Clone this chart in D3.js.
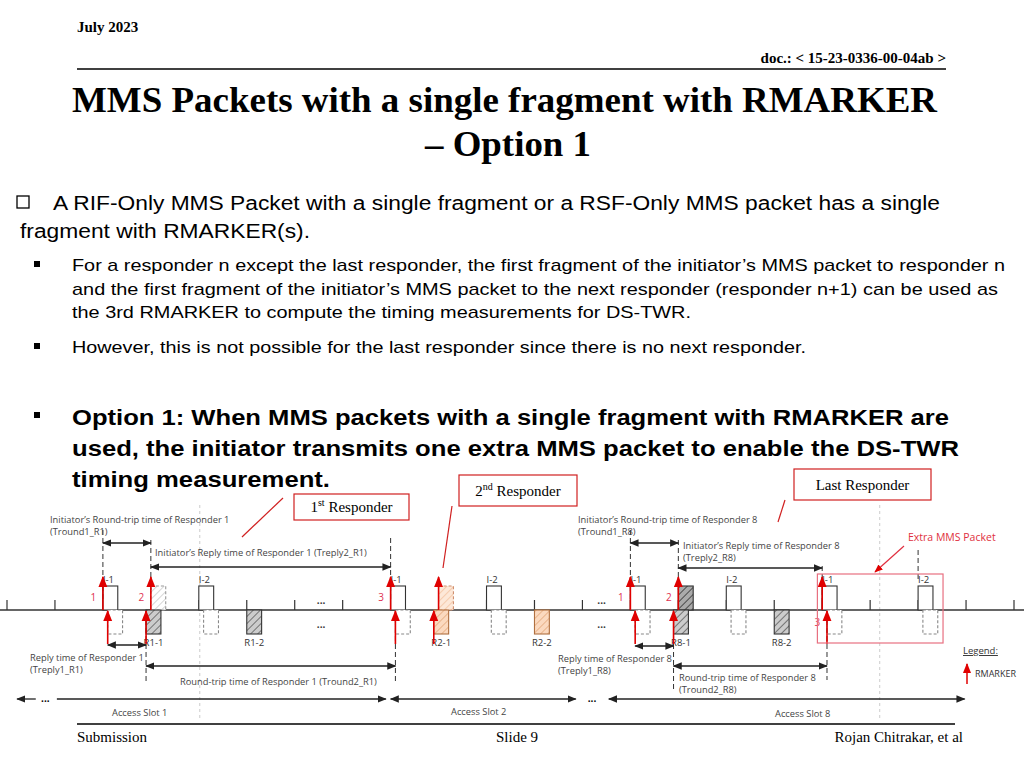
<!DOCTYPE html>
<html><head><meta charset="utf-8">
<script src="https://cdn.jsdelivr.net/npm/d3@7"></script>
<style>body{margin:0;background:#fff}svg{display:block}</style>
</head><body>
<script>
// ---------- data ----------
const bulletLines = [
  "A RIF-Only MMS Packet with a single fragment or a RSF-Only MMS packet has a single",
  "fragment with RMARKER(s)."
];
const subBullet1 = [
  "For a responder n except the last responder, the first fragment of the initiator’s MMS packet to responder n",
  "and the first fragment of the initiator’s MMS packet to the next responder (responder n+1) can be used as",
  "the 3rd RMARKER to compute the timing measurements for DS-TWR."
];
const subBullet2 = ["However, this is not possible for the last responder since there is no next responder."];
const optionLines = [
  "Option 1: When MMS packets with a single fragment with RMARKER are",
  "used, the initiator transmits one extra MMS packet to enable the DS-TWR",
  "timing measurement."
];
const tickSlots = d3.range(0, 22);
const packets = [
  {s:2, side:"up", st:"plain", lab:"I-1"}, {s:2.1, side:"down", st:"dash"},
  {s:3, side:"up", st:"lightHatchDash"}, {s:2.9, side:"down", st:"hatch", lab:"R1-1"},
  {s:4, side:"up", st:"plain", lab:"I-2"}, {s:4.1, side:"down", st:"dash"},
  {s:5, side:"down", st:"hatch", lab:"R1-2"},
  {s:8, side:"up", st:"plain", lab:"I-1"}, {s:8.1, side:"down", st:"dash"},
  {s:9, side:"up", st:"orangeDash"}, {s:8.9, side:"down", st:"orange", lab:"R2-1"},
  {s:10, side:"up", st:"plain", lab:"I-2"}, {s:10.1, side:"down", st:"dash"},
  {s:11, side:"down", st:"orange", lab:"R2-2"},
  {s:13, side:"up", st:"plain", lab:"I-1"}, {s:13.1, side:"down", st:"dash"},
  {s:14, side:"up", st:"darkHatch"}, {s:13.9, side:"down", st:"hatch", lab:"R8-1"},
  {s:15, side:"up", st:"plain", lab:"I-2"}, {s:15.1, side:"down", st:"dash"},
  {s:16, side:"down", st:"hatch", lab:"R8-2"},
  {s:17, side:"up", st:"plain", lab:"I-1"}, {s:17.1, side:"down", st:"dash"},
  {s:19, side:"up", st:"plain", lab:"I-2"}, {s:19.1, side:"down", st:"dash"}
];
const upMarkers = [2, 3, 8, 9, 13, 14, 17];
const downMarkers = [2.1, 2.9, 8.1, 8.9, 13.1, 13.9, 17.1];
const markerNums = [{s:1.8, t:"1", up:true},{s:2.8,t:"2",up:true},{s:7.8,t:"3",up:true},
  {s:12.8,t:"1",up:true},{s:13.8,t:"2",up:true},{s:16.9,t:"3",up:false}];
const ellipsisSlots = [6.55, 12.4];
const dashVerticals = [
  {s:2, y0:530, y1:600},{s:3, y0:540, y1:590},{s:2.9, y0:612, y1:682},
  {s:8, y0:538, y1:600},{s:8.1, y0:612, y1:682},
  {s:13, y0:530, y1:600},{s:14, y0:540, y1:590},{s:13.9, y0:612, y1:692},
  {s:17, y0:566, y1:600},{s:17.1, y0:612, y1:680},{s:19, y0:550, y1:582}
];
const dims = [
  {a:2, b:3, y:543}, {a:3, b:8, y:567}, {a:2.1, b:2.9, y:645}, {a:2.9, b:8.1, y:666},
  {a:13, b:14, y:543}, {a:14, b:17, y:568}, {a:13.1, b:13.9, y:646}, {a:13.9, b:17.1, y:666}
];
const dimLabels = [
  {x:50, y:523, t:"Initiator’s Round-trip time of Responder 1"}, {x:50, y:535, t:"(Tround1_R1)"},
  {x:155, y:556, t:"Initiator’s Reply time of Responder 1 (Treply2_R1)"},
  {x:30, y:661, t:"Reply time of Responder 1"}, {x:30, y:673, t:"(Treply1_R1)"},
  {x:180, y:685, t:"Round-trip time of Responder 1 (Tround2_R1)"},
  {x:578, y:523, t:"Initiator’s Round-trip time of Responder 8"}, {x:578, y:535, t:"(Tround1_R8)"},
  {x:683, y:549, t:"Initiator’s Reply time of Responder 8"}, {x:683, y:561, t:"(Treply2_R8)"},
  {x:558, y:662, t:"Reply time of Responder 8"}, {x:558, y:674, t:"(Treply1_R8)"},
  {x:679, y:681, t:"Round-trip time of Responder 8"}, {x:679, y:693, t:"(Tround2_R8)"},
  {x:112, y:716, t:"Access Slot 1"}, {x:451, y:715, t:"Access Slot 2"}, {x:775, y:717, t:"Access Slot 8"}
];
const slotArrows = [{a:0.6, b:0.21, start:false}, {a:1.04, b:7.9, start:false}, {a:8.0, b:11.86, start:true}, {a:12.55, b:19.97, start:true}];
const slotDots = [0.8, 12.2];

// ---------- drawing ----------
const W=1024,H=768;
const svg=d3.select("body").append("svg").attr("width",W).attr("height",H);
const defs=svg.append("defs");
function hatch(id,color,bg,sw){
  const p=defs.append("pattern").attr("id",id).attr("patternUnits","userSpaceOnUse")
    .attr("width",5).attr("height",5).attr("patternTransform","rotate(45)");
  p.append("rect").attr("width",5).attr("height",5).attr("fill",bg);
  p.append("line").attr("x1",0).attr("y1",0).attr("x2",0).attr("y2",5).attr("stroke",color).attr("stroke-width",sw);
}
hatch("hDark","#333","#aaa",1.6); hatch("hMid","#444","#ccc",1.3); hatch("hLight","#bbb","#fff",1.2);
hatch("hOrange","#e0a070","#fbd9bf",1.3); hatch("hOrangeL","#f0b890","#fde8d8",1.2);
[["ah","#222"],["ahr","#e00000"]].forEach(([id,c])=>{
  defs.append("marker").attr("id",id).attr("viewBox","0 0 10 10").attr("refX",9).attr("refY",5)
   .attr("markerWidth",7).attr("markerHeight",7).attr("orient","auto-start-reverse")
   .append("path").attr("d","M0,1L10,5L0,9z").attr("fill",c);
});
const serif="'Liberation Serif','Times New Roman',serif", sans="'Liberation Sans',Arial,sans-serif", diag="'Open Sans','Noto Sans',sans-serif";
function fitText(x0,y,t,size,len,opts={}){
  const e=svg.append("text").attr("x",x0).attr("y",y).attr("font-family",opts.ff||sans).attr("font-size",size)
    .attr("textLength",len).attr("lengthAdjust","spacingAndGlyphs").text(t);
  if(opts.bold) e.attr("font-weight","bold");
  if(opts.anchor) e.attr("text-anchor",opts.anchor);
  return e;
}

// header
svg.append("text").attr("x",77).attr("y",32).attr("font-family",serif).attr("font-weight","bold").attr("font-size",15).text("July 2023");
svg.append("text").attr("x",946).attr("y",63).attr("text-anchor","end").attr("font-family",serif).attr("font-weight","bold").attr("font-size",15).text("doc.: < 15-23-0336-00-04ab >");
svg.append("line").attr("x1",77).attr("x2",946).attr("y1",69).attr("y2",69).attr("stroke","#000").attr("stroke-width",1.5);
fitText(72,112,"MMS Packets with a single fragment with RMARKER",36,865,{ff:serif,bold:true});
fitText(425,156,"– Option 1",36,166,{ff:serif,bold:true});

// bullets
svg.append("rect").attr("x",17).attr("y",196).attr("width",12).attr("height",12).attr("fill","none").attr("stroke","#000").attr("stroke-width",1.3);
fitText(53,210,bulletLines[0],20,887);
fitText(20,238,bulletLines[1],20,290);
function sq(y){svg.append("rect").attr("x",34).attr("y",y).attr("width",6).attr("height",6).attr("fill","#000");}
sq(261);
[933,926,619].forEach((len,i)=>fitText(72,271+i*23.5,subBullet1[i],17,len));
sq(343); fitText(72,353,subBullet2[0],17,734);
sq(412);
[877,887,258].forEach((len,i)=>fitText(72,425+i*31,optionLines[i],22,len,{bold:true}));

// diagram
const x=d3.scaleLinear().domain([0,21]).range([7,1014]);
const bw=x(0.31)-x(0), axisY=610, bh=24;
const g=svg.append("g");
[4.02,18.2].forEach(s=>g.append("line").attr("x1",x(s)).attr("x2",x(s)).attr("y1",505).attr("y2",720).attr("stroke","#ccc").attr("stroke-dasharray","3,3"));
g.append("line").attr("x1",0).attr("x2",W).attr("y1",axisY).attr("y2",axisY).attr("stroke","#333").attr("stroke-width",1.3);
g.selectAll(".tk").data(tickSlots).join("line").attr("x1",d=>x(d)).attr("x2",d=>x(d)).attr("y1",axisY-10).attr("y2",axisY).attr("stroke","#333").attr("stroke-width",1.2);
const fills={plain:"#fff",dash:"#fff",lightHatchDash:"url(#hLight)",hatch:"url(#hMid)",orange:"url(#hOrange)",orangeDash:"url(#hOrangeL)",darkHatch:"url(#hDark)"};
const strokes={plain:"#333",dash:"#888",lightHatchDash:"#999",hatch:"#333",orange:"#b07040",orangeDash:"#d09070",darkHatch:"#333"};
const dashed=new Set(["dash","lightHatchDash","orangeDash"]);
g.selectAll(".pk").data(packets).join("rect")
  .attr("x",d=>x(d.s)).attr("y",d=>d.side==="up"?axisY-bh:axisY).attr("width",bw).attr("height",bh)
  .attr("fill",d=>fills[d.st]).attr("stroke",d=>strokes[d.st]).attr("stroke-width",1.1)
  .attr("stroke-dasharray",d=>dashed.has(d.st)?"3,2":null);
g.selectAll(".pl").data(packets.filter(d=>d.lab)).join("text")
  .attr("x",d=>d.side==="up"?x(d.s):x(d.s)+bw/2).attr("y",d=>d.side==="up"?axisY-bh-3:axisY+bh+12)
  .attr("text-anchor",d=>d.side==="up"?"start":"middle").attr("font-family",diag).attr("font-size",9.5).attr("fill","#333").text(d=>d.lab);
g.selectAll(".dv").data(dashVerticals).join("line").attr("x1",d=>x(d.s)).attr("x2",d=>x(d.s)).attr("y1",d=>d.y0).attr("y2",d=>d.y1)
  .attr("stroke","#333").attr("stroke-dasharray","5,3").attr("stroke-width",1);
g.selectAll(".um").data(upMarkers).join("line").attr("x1",d=>x(d)).attr("x2",d=>x(d)).attr("y1",axisY).attr("y2",axisY-33)
  .attr("stroke","#e00000").attr("stroke-width",1.6).attr("marker-end","url(#ahr)");
g.selectAll(".dm").data(downMarkers).join("line").attr("x1",d=>x(d)).attr("x2",d=>x(d)).attr("y1",axisY+34).attr("y2",axisY+1)
  .attr("stroke","#e00000").attr("stroke-width",1.6).attr("marker-end","url(#ahr)");
g.selectAll(".mn").data(markerNums).join("text").attr("x",d=>x(d.s)).attr("y",d=>d.up?axisY-9:axisY+16)
  .attr("text-anchor","middle").attr("font-family",diag).attr("font-size",10).attr("fill","#e03050").text(d=>d.t);
ellipsisSlots.forEach(s=>{[axisY-6,axisY+18].forEach(y=>g.append("text").attr("x",x(s)).attr("y",y).attr("text-anchor","middle").attr("font-family",diag).attr("font-size",10).attr("font-weight","bold").attr("fill","#333").text("..."));});
g.selectAll(".dim").data(dims).join("line").attr("x1",d=>x(d.a)).attr("x2",d=>x(d.b)).attr("y1",d=>d.y).attr("y2",d=>d.y)
  .attr("stroke","#222").attr("stroke-width",1.3).attr("marker-start","url(#ah)").attr("marker-end","url(#ah)");
g.selectAll(".dl").data(dimLabels).join("text").attr("x",d=>d.x).attr("y",d=>d.y).attr("font-family",diag).attr("font-size",9.3).attr("fill","#444").text(d=>d.t);
g.selectAll(".sa").data(slotArrows).join("line").attr("x1",d=>x(d.a)).attr("x2",d=>x(d.b)).attr("y1",699).attr("y2",699)
  .attr("stroke","#222").attr("stroke-width",1.3).attr("marker-end","url(#ah)").attr("marker-start",d=>d.start?"url(#ah)":null);
g.selectAll(".sd").data(slotDots).join("text").attr("x",d=>x(d)).attr("y",702).attr("text-anchor","middle").attr("font-family",diag).attr("font-weight","bold").attr("font-size",10).text("...");
// extra packet
g.append("rect").attr("x",x(16.9)).attr("y",574).attr("width",x(19.52)-x(16.9)).attr("height",69).attr("fill","none").attr("stroke","#e87080").attr("stroke-width",1.2);
g.append("text").attr("x",908).attr("y",541).attr("font-family",diag).attr("font-size",10.5).attr("fill","#e03040").text("Extra MMS Packet");
g.append("line").attr("x1",904).attr("y1",546).attr("x2",875).attr("y2",572).attr("stroke","#e03040").attr("stroke-width",1.2).attr("marker-end","url(#ahr)");
// legend
g.append("text").attr("x",963).attr("y",654).attr("font-family",diag).attr("font-size",9.5).attr("fill","#333").attr("text-decoration","underline").text("Legend:");
g.append("line").attr("x1",967).attr("x2",967).attr("y1",684).attr("y2",664).attr("stroke","#e00000").attr("stroke-width",1.5).attr("marker-end","url(#ahr)");
g.append("text").attr("x",975).attr("y",677).attr("font-family",diag).attr("font-size",9).attr("fill","#333").text("RMARKER");
// callouts
function callout(x0,y0,w,h,main,sup,rest,ln){
  svg.append("rect").attr("x",x0).attr("y",y0).attr("width",w).attr("height",h).attr("fill","#fff").attr("stroke","#d02020").attr("stroke-width",1.2);
  const t=svg.append("text").attr("x",x0+w/2).attr("y",y0+h/2+5).attr("text-anchor","middle").attr("font-family",serif).attr("font-size",15);
  t.append("tspan").text(main);
  if(sup) t.append("tspan").attr("font-size",10).attr("dy",-6).text(sup);
  t.append("tspan").attr("dy",sup?6:0).text(rest);
  svg.append("line").attr("x1",ln[0]).attr("y1",ln[1]).attr("x2",ln[2]).attr("y2",ln[3]).attr("stroke","#d02020").attr("stroke-width",1.2);
}
callout(294,494,115,26,"1","st"," Responder",[283,498,242,537]);
callout(459,475,118,31,"2","nd"," Responder",[452,506,443,568]);
callout(794,469,137,31,"Last Responder","","",[785,500,778,522]);
// footer
svg.append("line").attr("x1",77).attr("x2",955).attr("y1",724).attr("y2",724).attr("stroke","#000").attr("stroke-width",1.3);
svg.append("text").attr("x",77).attr("y",742).attr("font-family",serif).attr("font-size",15).text("Submission");
svg.append("text").attr("x",517).attr("y",742).attr("text-anchor","middle").attr("font-family",serif).attr("font-size",15).text("Slide 9");
svg.append("text").attr("x",963).attr("y",742).attr("text-anchor","end").attr("font-family",serif).attr("font-size",15).text("Rojan Chitrakar, et al");
</script>
</body></html>
